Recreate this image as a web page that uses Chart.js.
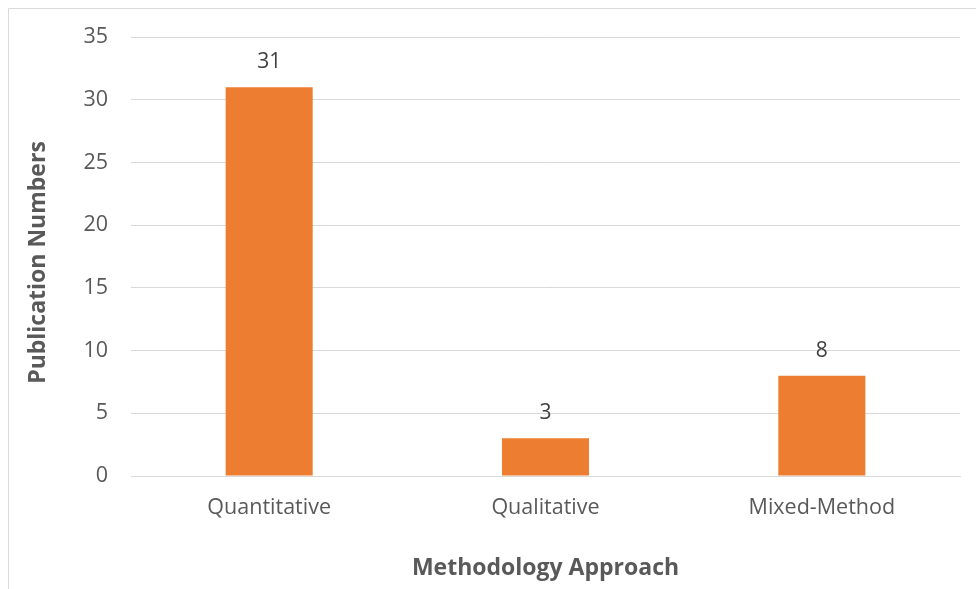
<!DOCTYPE html>
<html>
<head>
<meta charset="utf-8">
<script src="https://cdn.jsdelivr.net/npm/chart.js@4.4.1/dist/chart.umd.min.js"></script>
<style>
  html, body { margin: 0; padding: 0; background: #ffffff; }
  #wrap { position: relative; width: 976px; height: 589px; }
</style>
</head>
<body>
<div id="wrap"><canvas id="chart" width="976" height="589"></canvas></div>
<script>
const categories = ['Quantitative', 'Qualitative', 'Mixed-Method'];
const publications = [31, 3, 8];
const yTicks = [0, 5, 10, 15, 20, 25, 30, 35];
const xTitle = 'Methodology Approach';
const yTitle = 'Publication Numbers';

const FONT = '"Open Sans", Lato, sans-serif';
const TEXT = '#595959';

// thin frame around the chart object
const framePlugin = {
  id: 'frame',
  beforeDraw(chart) {
    const ctx = chart.ctx;
    ctx.save();
    ctx.strokeStyle = '#d9d9d9';
    ctx.lineWidth = 1;
    ctx.beginPath();
    ctx.moveTo(8.5, chart.height);
    ctx.lineTo(8.5, 8.5);
    ctx.lineTo(chart.width, 8.5);
    ctx.stroke();
    ctx.restore();
  }
};

// vertical axis title, centred a little below the plot's middle
const yTitlePlugin = {
  id: 'yTitle',
  afterDraw(chart) {
    const ctx = chart.ctx;
    const area = chart.chartArea;
    ctx.save();
    ctx.translate(38, (area.top + area.bottom) / 2 + 6);
    ctx.rotate(-Math.PI / 2);
    ctx.fillStyle = TEXT;
    ctx.font = 'bold 23px ' + FONT;
    ctx.textAlign = 'center';
    ctx.textBaseline = 'middle';
    ctx.fillText(yTitle, 0, 0);
    ctx.restore();
  }
};

// value labels above each bar
const valueLabels = {
  id: 'valueLabels',
  afterDatasetsDraw(chart) {
    const ctx = chart.ctx;
    const meta = chart.getDatasetMeta(0);
    ctx.save();
    ctx.fillStyle = '#404040';
    ctx.font = '21px ' + FONT;
    ctx.textAlign = 'center';
    ctx.textBaseline = 'alphabetic';
    meta.data.forEach((bar, i) => {
      ctx.fillText(String(publications[i]), bar.x, bar.y - 19);
    });
    ctx.restore();
  }
};

new Chart(document.getElementById('chart'), {
  type: 'bar',
  data: {
    labels: categories,
    datasets: [{
      data: publications,
      backgroundColor: '#ED7D31',
      borderWidth: 0,
      barPercentage: 0.63,
      categoryPercentage: 0.5
    }]
  },
  options: {
    responsive: false,
    animation: false,
    devicePixelRatio: 1,
    layout: { padding: { left: 10, right: 16, top: 37, bottom: 0 } },
    plugins: { legend: { display: false }, tooltip: { enabled: false } },
    scales: {
      x: {
        grid: { display: false, drawTicks: false },
        border: { display: true, color: '#d9d9d9', width: 1 },
        ticks: { color: TEXT, font: { family: FONT, size: 21.5 }, padding: 19 },
        title: {
          display: true, text: xTitle, color: TEXT,
          font: { family: FONT, size: 23, weight: 'bold' },
          padding: { top: 0, bottom: 7 }
        },
        afterFit(axis) { axis.height = 113; }
      },
      y: {
        min: 0, max: 35,
        afterBuildTicks(axis) { axis.ticks = yTicks.map(v => ({ value: v })); },
        grid: { color: '#d9d9d9', drawTicks: false },
        border: { display: false },
        ticks: { color: TEXT, font: { family: FONT, size: 21.5 }, padding: 23 },
        title: { display: false },
        afterFit(axis) { axis.width = 121; }
      }
    }
  },
  plugins: [framePlugin, valueLabels, yTitlePlugin]
});
</script>
</body>
</html>
